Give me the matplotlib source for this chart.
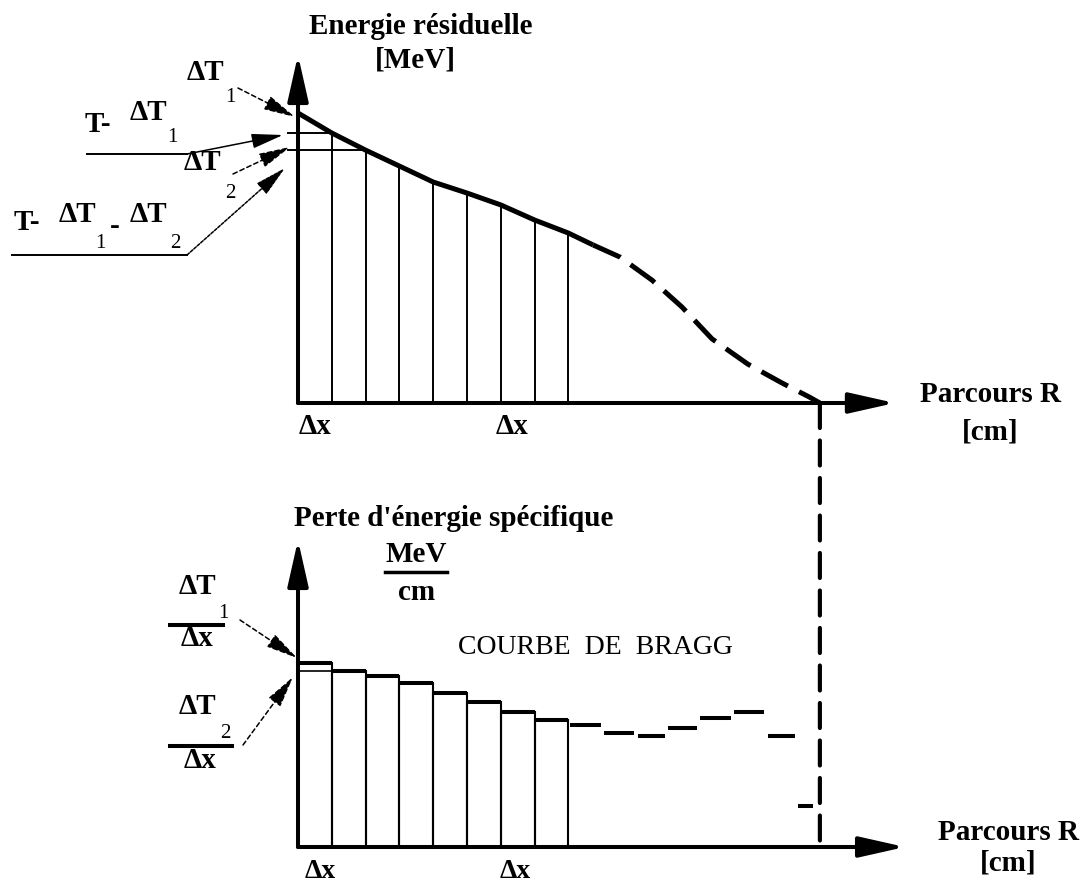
import matplotlib.pyplot as plt
from matplotlib.patches import ConnectionPatch

W, H = 1090, 890

# energie residuelle E(R), R in steps of dx
r_curve = [0, 1, 2, 3, 4, 5, 6, 7, 8, 8.73, 9.53, 10.47, 11.36, 12.25, 13.31, 14.32, 15.12, 15.44]
e_curve = [10.0, 9.31, 8.72, 8.17, 7.62, 7.24, 6.83, 6.31, 5.86, 5.45, 5.03, 4.24, 3.31, 2.21, 1.34, 0.69, 0.21, 0.0]
n_solid = 10          # points drawn solid, the rest dashed
n_steps = 9           # R = 0 .. 8 get a vertical line
r_max = r_curve[-1]

# perte d'energie specifique dT/dx (courbe de Bragg)
bar_left = [0, 1, 2, 3, 4, 5, 6, 7]
bar_height = [9.2, 8.8, 8.55, 8.2, 7.7, 7.25, 6.75, 6.35]
bragg_edges = [8, 9, 10, 10.9, 11.85, 12.85, 13.85, 14.75, 15.3]
bragg_values = [6.1, 5.7, 5.55, 5.95, 6.45, 6.75, 5.55, 2.05]

plt.rcParams['font.family'] = ['Liberation Serif', 'DejaVu Serif']
fig = plt.figure(figsize=(W / 100, H / 100), dpi=100)


def panel(ox, oy, sx, sy, x0, x1, y0, y1):
    # axes whose data origin sits at pixel (ox, oy)
    ax = fig.add_axes([(ox + x0 * sx) / W, 1 - (oy - y0 * sy) / H,
                       (x1 - x0) * sx / W, (y1 - y0) * sy / H])
    ax.set_xlim(x0, x1)
    ax.set_ylim(y0, y1)
    ax.axis('off')
    ax.patch.set_visible(False)
    return ax


def axis_arrow(ax, x, y):
    ax.annotate('', xy=(x, y), xytext=(0, 0),
                arrowprops=dict(arrowstyle='-|>,head_length=2.0,head_width=0.45',
                                mutation_scale=14, lw=2.9, color='k',
                                shrinkA=0, shrinkB=0))


top = panel(298, 403, 33.8, 29, -0.5, 18.5, -0.5, 12.5)
bot = panel(298, 847, 33.8, 20, -0.5, 19, -0.5, 16)
ov = fig.add_axes([0, 0, 1, 1])
ov.set_xlim(0, W)
ov.set_ylim(H, 0)
ov.axis('off')
ov.patch.set_visible(False)

# --- energie residuelle ---
axis_arrow(top, 17.66, 0)
axis_arrow(top, 0, 12.0)
for r, e in zip(r_curve[1:n_steps], e_curve[1:n_steps]):
    top.plot([r, r], [0, e], color='k', lw=1.4)
top.plot([-0.3, r_curve[1]], [e_curve[1]] * 2, color='k', lw=1.4)
top.plot([-0.3, r_curve[2]], [e_curve[2]] * 2, color='k', lw=1.4)
top.plot(r_curve[:n_solid], e_curve[:n_solid], color='k', lw=3.6, solid_capstyle='butt')
top.plot(r_curve[n_solid - 1:], e_curve[n_solid - 1:], color='k', lw=3.6,
         ls=(0, (6, 2.5)), dash_capstyle='butt')

# --- courbe de Bragg ---
axis_arrow(bot, 17.96, 0)
axis_arrow(bot, 0, 15.35)
bot.bar(bar_left, bar_height, width=1, align='edge', fill=False, edgecolor='k', lw=1.5)
for l, h in zip(bar_left, bar_height):
    bot.plot([l, l + 1], [h, h], color='k', lw=2.9, solid_capstyle='butt')
bot.plot([0, 1], [bar_height[1]] * 2, color='k', lw=1.2)
for i, v in enumerate(bragg_values):
    bot.plot([bragg_edges[i] + 0.05, bragg_edges[i + 1] - 0.05], [v, v],
             color='k', lw=2.9, solid_capstyle='butt')

# parcours R reports down to the lower axis
link = ConnectionPatch(xyA=(r_max, 0), coordsA=top.transData,
                       xyB=(r_max, 0), coordsB=bot.transData,
                       color='k', lw=3, ls=(0, (6, 3)))
fig.add_artist(link)


def label(x, y, s, size=21, weight='bold'):
    ov.text(x, y, s, ha='center', va='center', fontsize=size, fontweight=weight)


def sub(x, y, s):
    ov.text(x, y, s, ha='center', va='center', fontsize=15)


def pointer(x0, y0, x1, y1, ls=(0, (3, 2))):
    ov.annotate('', xy=(x1, y1), xytext=(x0, y0),
                arrowprops=dict(arrowstyle='-|>,head_length=1.5,head_width=0.35',
                                mutation_scale=13, lw=1.1, ls=ls, color='k',
                                shrinkA=0, shrinkB=0))


# top labels
label(421, 27, 'Energie résiduelle')
label(415, 60, '[MeV]')
label(990, 395, 'Parcours R')
label(990, 432, '[cm]')
label(315, 427, 'Δx')
label(512, 427, 'Δx')

label(205, 72, 'ΔT')
sub(230, 97, '1')
pointer(238, 88, 295, 117)

label(98, 125, 'T-')
label(148, 112, 'ΔT')
sub(172, 138, '1')
ov.plot([87, 187], [154, 154], color='k', lw=1.4)
pointer(187, 154, 283, 135, ls='-')

label(202, 163, 'ΔT')
sub(230, 193, '2')
pointer(233, 174, 290, 147)

label(27, 222, 'T-')
label(77, 215, 'ΔT')
sub(100, 243, '1')
label(115, 227, '-')
label(148, 215, 'ΔT')
sub(175, 243, '2')
ov.plot([12, 187], [255, 255], color='k', lw=1.4)
pointer(187, 255, 285, 168, ls=(0, (2, 1)))

# lower labels
label(454, 518, "Perte d'énergie spécifique")
label(416, 555, 'MeV')
ov.plot([385, 447], [572, 572], color='k', lw=2.5)
label(417, 592, 'cm')
label(595, 648, 'COURBE  DE  BRAGG', size=20, weight='normal')
label(1008, 833, 'Parcours R')
label(1008, 863, '[cm]')
label(320, 872, 'Δx', size=20)
label(515, 872, 'Δx', size=20)

label(197, 586, 'ΔT')
sub(223, 613, '1')
ov.plot([170, 223], [625, 625], color='k', lw=2.9)
label(197, 639, 'Δx')
pointer(240, 620, 297, 658)

label(197, 706, 'ΔT')
sub(225, 733, '2')
ov.plot([170, 232], [746, 746], color='k', lw=2.9)
label(200, 761, 'Δx')
pointer(243, 745, 293, 677)

fig.savefig('out.png', dpi=100, facecolor='white')
